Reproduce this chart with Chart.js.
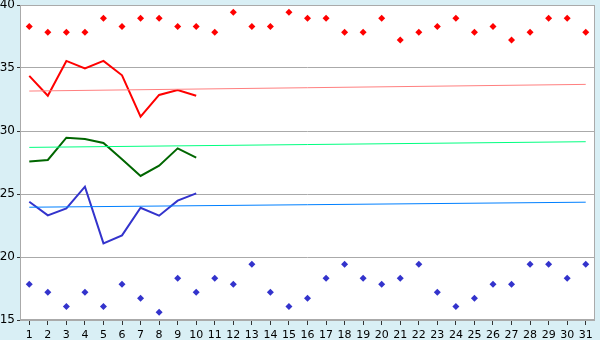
<!DOCTYPE html>
<html lang="en">
<head>
<meta charset="UTF-8">
<title>Daily values</title>
<script src="https://cdn.jsdelivr.net/npm/chart.js"></script>
<style>
    body { margin: 0; background: #d9eff5; }
    #wrap { width: 600px; height: 340px; }
</style>
</head>
<body>
<div id="wrap"><canvas id="chart" width="600" height="340"></canvas></div>
<script>
// days on the x axis
const days = ['1','2','3','4','5','6','7','8','9','10','11','12','13','14','15','16',
              '17','18','19','20','21','22','23','24','25','26','27','28','29','30','31'];

// upper red points
const redDots = [38.3, 37.83, 37.83, 37.83, 38.94, 38.3, 38.94, 38.94, 38.3, 38.3,
                 37.83, 39.42, 38.3, 38.3, 39.42, 38.94, 38.94, 37.83, 37.83, 38.94,
                 37.22, 37.83, 38.3, 38.94, 37.83, 38.3, 37.22, 37.83, 38.94, 38.94, 37.83];
// lower blue points
const blueDots = [17.83, 17.2, 16.08, 17.2, 16.08, 17.83, 16.72, 15.61, 18.31, 17.2,
                  18.31, 17.83, 19.42, 17.2, 16.08, 16.72, 18.31, 19.42, 18.31, 17.83,
                  18.31, 19.42, 17.2, 16.08, 16.72, 17.83, 17.83, 19.42, 19.42, 18.31, 19.42];

// lines for days 1-10
const redLine = [34.37, 32.8, 35.56, 34.97, 35.56, 34.42, 31.13, 32.86, 33.25, 32.8];
const greenLine = [27.57, 27.7, 29.47, 29.37, 29.05, 27.75, 26.43, 27.25, 28.62, 27.88];
const blueLine = [24.39, 23.3, 23.86, 25.58, 21.08, 21.72, 23.91, 23.28, 24.47, 25.05];

// trend lines: value at day 1 and day 31
const redTrend = [33.17, 33.7];
const greenTrend = [28.7, 29.15];
const blueTrend = [23.95, 24.35];

const trendData = v => [{x: days[0], y: v[0]}, {x: days[days.length - 1], y: v[1]}];

// white plot area with a grey frame
const plotFrame = {
    id: 'plotFrame',
    beforeDraw(chart) {
        const a = chart.chartArea, ctx = chart.ctx;
        ctx.save();
        ctx.fillStyle = '#ffffff';
        ctx.fillRect(a.left, a.top, a.right - a.left, a.bottom - a.top);
        ctx.restore();
    },
    afterDraw(chart) {
        const a = chart.chartArea, ctx = chart.ctx;
        ctx.save();
        ctx.strokeStyle = '#aaaaaa';
        ctx.lineWidth = 1;
        ctx.strokeRect(a.left + 0.5, a.top + 0.5, a.right - a.left - 1, a.bottom - a.top - 1);
        ctx.restore();
    }
};

const lineStyle = (c) => ({ borderColor: c, backgroundColor: c, borderWidth: 2, pointRadius: 0, tension: 0, fill: false });
const trendStyle = (c) => ({ borderColor: c, backgroundColor: c, borderWidth: 1, pointRadius: 0, tension: 0, fill: false });
const dotStyle = (c) => ({ showLine: false, pointStyle: 'rectRot', pointRadius: 3.5, pointBorderWidth: 0,
                          pointBackgroundColor: c, borderColor: c, backgroundColor: c });

new Chart(document.getElementById('chart'), {
    type: 'line',
    data: {
        labels: days,
        datasets: [
            { data: trendData(redTrend), ...trendStyle('#ff8080') },
            { data: trendData(greenTrend), ...trendStyle('#00ff80') },
            { data: trendData(blueTrend), ...trendStyle('#0080ff') },
            { data: redLine, ...lineStyle('#ff0000') },
            { data: greenLine, ...lineStyle('#006600') },
            { data: blueLine, ...lineStyle('#3333cc') },
            { data: redDots, ...dotStyle('#ff0000') },
            { data: blueDots, ...dotStyle('#3333cc') }
        ]
    },
    options: {
        responsive: false,
        animation: false,
        layout: { padding: { top: 0, right: 5 } },
        plugins: { legend: { display: false }, tooltip: { enabled: false } },
        scales: {
            x: {
                offset: true,
                grid: { offset: false, drawOnChartArea: false, tickLength: 5, tickColor: '#333' },
                border: { display: false },
                ticks: { color: '#000', font: { family: 'DejaVu Sans', size: 11 }, padding: 4,
                         autoSkip: false, maxRotation: 0 },
                afterFit(s) { s.height = 20; s.paddingLeft = 0; s.paddingRight = 0; }
            },
            y: {
                min: 15, max: 40,
                grid: { color: '#aaaaaa', tickLength: 3, tickColor: '#333' },
                border: { display: false },
                ticks: { stepSize: 5, color: '#000', font: { family: 'DejaVu Sans', size: 12 }, padding: 2 },
                afterFit(s) { s.width = 20; s.paddingTop = 5; s.paddingBottom = 0; }
            }
        }
    },
    plugins: [plotFrame]
});
</script>
</body>
</html>
